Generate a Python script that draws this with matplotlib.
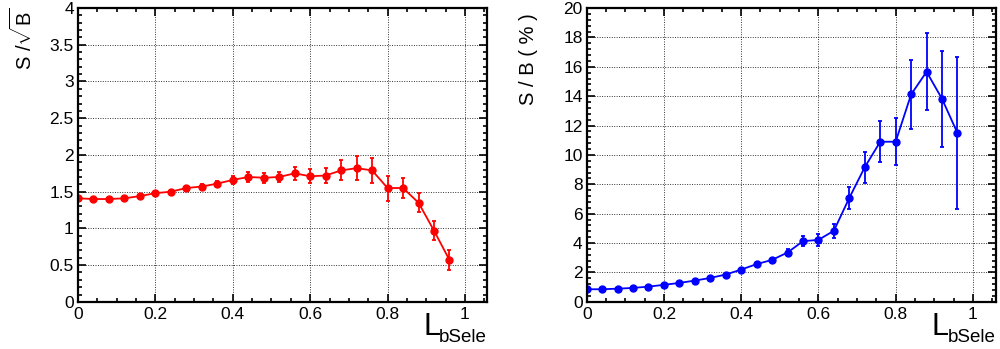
import matplotlib
matplotlib.use("Agg")
import matplotlib.pyplot as plt
from matplotlib.ticker import MultipleLocator, FixedLocator, FixedFormatter

plt.rcParams['font.family'] = ['Liberation Sans', 'DejaVu Sans']
plt.rcParams['mathtext.fontset'] = 'custom'
plt.rcParams['mathtext.rm'] = 'Liberation Sans'
plt.rcParams['mathtext.it'] = 'Liberation Sans'
plt.rcParams['mathtext.bf'] = 'Liberation Sans'

cut = [0.00, 0.04, 0.08, 0.12, 0.16, 0.20, 0.24, 0.28, 0.32, 0.36, 0.40, 0.44,
       0.48, 0.52, 0.56, 0.60, 0.64, 0.68, 0.72, 0.76, 0.80, 0.84, 0.88, 0.92, 0.96]

s_sqrtb = [1.41, 1.40, 1.40, 1.41, 1.44, 1.48, 1.50, 1.55, 1.57, 1.61, 1.66, 1.70,
           1.69, 1.70, 1.75, 1.71, 1.72, 1.79, 1.82, 1.79, 1.55, 1.55, 1.35, 0.97, 0.57]
s_sqrtb_err = [0.01, 0.01, 0.01, 0.01, 0.015, 0.02, 0.025, 0.03, 0.035, 0.04, 0.05, 0.065,
               0.065, 0.07, 0.09, 0.095, 0.10, 0.135, 0.16, 0.175, 0.17, 0.14, 0.13, 0.13, 0.14]

s_over_b = [0.86, 0.86, 0.90, 0.95, 1.04, 1.16, 1.29, 1.45, 1.63, 1.86, 2.20, 2.57,
            2.86, 3.36, 4.13, 4.22, 4.84, 7.08, 9.17, 10.9, 10.9, 14.12, 15.66, 13.82, 11.49]
s_over_b_err = [0.02, 0.02, 0.02, 0.03, 0.03, 0.04, 0.04, 0.05, 0.06, 0.07, 0.09, 0.12,
                0.15, 0.23, 0.36, 0.40, 0.48, 0.73, 1.05, 1.40, 1.60, 2.32, 2.62, 3.27, 5.15]

fig = plt.figure(figsize=(10, 3.49), dpi=100)

panels = [
    dict(rect=[0.078, 0.135, 0.409, 0.842], y=s_sqrtb, e=s_sqrtb_err, color='#ff0000',
         ylim=(0, 4), ymin=0.1, ylabel=r'S /$\sqrt{\mathrm{B}}$', xmax=1.057,
         ylab_pos=(0.023, 0.977),
         yticks=[0, 0.5, 1, 1.5, 2, 2.5, 3, 3.5, 4],
         ylabels=['0', '0.5', '1', '1.5', '2', '2.5', '3', '3.5', '4']),
    dict(rect=[0.5867, 0.135, 0.409, 0.842], y=s_over_b, e=s_over_b_err, color='#0000ff',
         ylim=(0, 20), ymin=0.4, ylabel='S / B ( % )', xmax=1.059,
         ylab_pos=(0.528, 0.963),
         yticks=[0, 2, 4, 6, 8, 10, 12, 14, 16, 18, 20],
         ylabels=['0', '2', '4', '6', '8', '10', '12', '14', '16', '18', '20']),
]

xticks = [0, 0.2, 0.4, 0.6, 0.8, 1.0]
xlabels = ['0', '0.2', '0.4', '0.6', '0.8', '1']

for p in panels:
    ax = fig.add_axes(p['rect'])
    ax.errorbar(cut, p['y'], yerr=p['e'], color=p['color'], marker='o', markersize=5,
                linewidth=1.3, elinewidth=1.3, capsize=1.5, capthick=1.3)
    ax.set_xlim(0, p['xmax'])
    ax.set_ylim(*p['ylim'])
    ax.xaxis.set_major_locator(FixedLocator(xticks))
    ax.xaxis.set_major_formatter(FixedFormatter(xlabels))
    ax.xaxis.set_minor_locator(MultipleLocator(0.05))
    ax.yaxis.set_major_locator(FixedLocator(p['yticks']))
    ax.yaxis.set_major_formatter(FixedFormatter(p['ylabels']))
    ax.yaxis.set_minor_locator(MultipleLocator(p['ymin']))
    ax.tick_params(which='both', direction='in', top=True, right=True, width=1.2, colors='black')
    ax.tick_params(which='major', length=6, labelsize=12.5, pad=4)
    ax.tick_params(which='minor', length=3)
    ax.tick_params(axis='y', which='major', pad=3)
    for sp in ax.spines.values():
        sp.set_linewidth(1.6)
    ax.grid(True, which='major', linestyle=(0, (1, 1.5)), color='black', linewidth=0.7, alpha=0.8)
    fig.text(p['ylab_pos'][0], p['ylab_pos'][1], p['ylabel'], fontsize=14.5,
             rotation=90, ha='center', va='top')
    r = p['rect']
    right_px = (r[0] + r[2]) * 1000
    fig.text((right_px - 47) / 1000, (349 - 335) / 349, 'L', fontsize=22,
             ha='right', va='baseline')
    fig.text(r[0] + r[2], (349 - 342) / 349, 'bSele', fontsize=13.5,
             ha='right', va='baseline')

fig.savefig('out.png', dpi=100)
